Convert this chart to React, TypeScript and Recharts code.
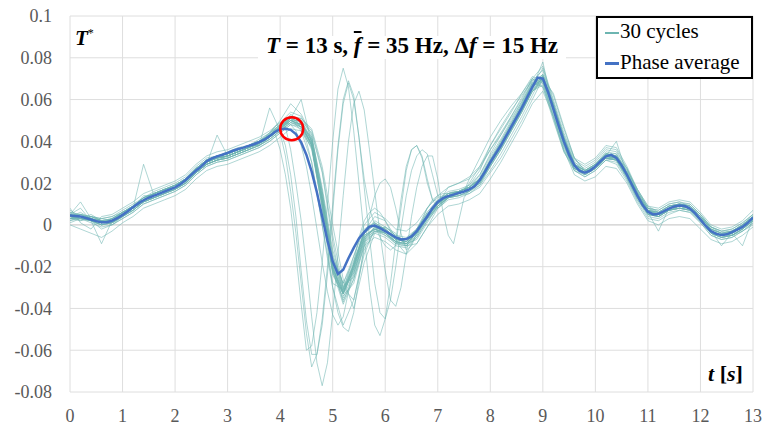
import React from "react";
import { LineChart, Line, XAxis, YAxis, CartesianGrid, ReferenceLine, ReferenceDot } from "recharts";

// time grids (s)
const steps = (a: number, b: number, d: number) => {
  const n = Math.round((b - a) / d);
  return Array.from({ length: n + 1 }, (_, i) => +(a + i * d).toFixed(2));
};
const T_AVG = steps(0, 13, 0.1);
const T_BAND = steps(0, 13, 0.2);
const T_OUT = [...steps(0, 3.4, 0.2), ...steps(3.6, 7.5, 0.1), ...steps(7.6, 13, 0.2)];

const X_TICKS = [0, 1, 2, 3, 4, 5, 6, 7, 8, 9, 10, 11, 12, 13];
const Y_TICKS = [-0.08, -0.06, -0.04, -0.02, 0, 0.02, 0.04, 0.06, 0.08, 0.1];

// T* values in units of 1e-3
const AVG = [
  4.5, 4.3, 4.0, 3.3, 2.6, 1.8, 1.3, 1.3, 2.0, 3.2,
  4.8, 6.5, 8.5, 10.3, 11.8, 13.0, 14.0, 15.0, 16.0, 17.0,
  18.0, 19.5, 21.5, 23.8, 26.0, 28.0, 30.5, 31.8, 32.8, 33.6,
  34.5, 35.5, 36.3, 37.0, 37.8, 38.6, 39.6, 40.8, 42.5, 44.5,
  45.8, 46.0, 45.5, 43.5, 39.5, 33.5, 25.5, 15.5, 4.0, -7.5,
  -17.5, -23.5, -21.5, -16.0, -11.0, -6.5, -3.5, -0.8, -0.3, -1.5,
  -3.0, -4.5, -6.0, -7.0, -6.8, -5.5, -3.0, 0.5, 4.0, 8.0,
  11.0, 12.8, 13.8, 14.5, 15.3, 16.0, 17.0, 18.5, 21.5, 25.5,
  30.0, 34.0, 38.0, 42.5, 47.0, 51.5, 56.0, 61.0, 66.0, 70.5,
  70.0, 63.5, 55.5, 47.5, 40.0, 33.5, 28.5, 25.8, 25.0, 26.0,
  28.0, 30.5, 32.8, 33.5, 32.0, 28.5, 24.0, 19.0, 14.0, 9.5,
  6.3, 5.0, 5.3, 6.5, 7.8, 8.8, 9.3, 9.0, 7.8, 5.5,
  2.5, -0.5, -3.0, -4.3, -4.8, -4.5, -3.5, -2.3, -1.0, 1.0,
  3.5,
];

const BAND = [
  [6,5,4,3,4,7, 10,13,16,18,20, 23,28,32,33,35, 37,38,40,43,48, 52,50,41,14,-17, -30,-18,-3,0,-2, -6,-7,-2,6,12, 15,16,18,23,32, 40,49,58,68,72, 57,41,29,26,29, 35,34,26,16,8, 7,10,11,9,5, -1,-3,-2,1,5],
  [2,3,1,-1,0,3, 6,10,12,14,16, 19,24,28,30,31, 33,35,37,40,44, 48,46,37,10,-22, -35,-23,-8,-4,-6, -10,-11,-6,2,8, 12,13,15,19,28, 36,45,54,64,68, 54,38,26,23,26, 31,30,22,12,4, 3,6,7,6,1, -5,-7,-6,-3,1],
  [5,8,2,0,3,6, 9,12,15,17,19, 22,27,31,33,34, 36,38,40,44,48, 51,45,30,0,-28, -31,-15,-2,1,-3, -7,-8,-3,5,11, 14,16,18,24,34, 43,52,60,70,68, 51,35,27,25,28, 33,31,22,12,5, 5,9,10,8,3, -3,-5,-3,0,4],
  [3,2,4,2,1,4, 7,11,13,15,17, 20,25,29,31,32, 34,36,38,41,45, 50,50,44,25,-8, -34,-28,-10,-3,-3, -8,-10,-6,2,9, 13,14,16,19,26, 34,43,52,62,72, 62,46,32,26,27, 32,33,27,17,8, 5,7,9,9,4, -2,-5,-5,-2,2],
  [7,4,2,3,2,5, 8,14,14,16,18, 21,26,30,32,33, 35,37,39,42,46, 53,49,40,13,-19, -37,-24,-6,-1,-4, -9,-9,-5,3,10, 14,15,17,22,31, 39,48,57,66,70, 56,40,28,25,28, 33,32,24,14,6, 4,8,9,8,3, -3,-5,-4,-1,3],
  [4,6,3,1,2,5, 8,12,15,17,18, 21,27,31,33,34, 36,38,41,44,50, 58,53,43,16,-15, -28,-17,-4,2,-1, -5,-6,-2,6,12, 16,17,19,24,33, 41,50,59,69,74, 58,42,30,27,30, 36,35,27,16,8, 6,9,10,9,4, -2,-4,-3,0,4],
  [3,4,2,0,1,5, 8,29,14,16,18, 21,25,29,31,33, 35,37,39,42,47, 50,47,36,9,-23, -33,-21,-6,-2,-5, -8,-9,-4,4,10, 14,15,17,21,29, 37,46,55,65,70, 55,39,27,24,27, 32,31,23,13,5, 4,7,8,7,2, -4,-6,-5,-2,2],
  [5,3,4,2,3,6, 9,12,14,16,17, 20,25,29,43,33, 35,37,39,42,46, 51,49,40,14,-18, -31,-19,-4,0,-3, -7,-8,-3,4,11, 15,16,18,22,31, 39,48,57,67,71, 57,41,29,26,29, 34,33,25,15,7, 6,9,10,9,4, -2,-4,-3,0,4],
  [2,4,3,2,1,4, 7,11,13,15,17, 20,25,29,31,32, 34,36,38,56,45, 49,47,38,11,-21, -33,-22,-7,-3,-5, -9,-10,-5,3,9, 13,14,16,20,28, 36,45,54,64,69, 55,39,27,24,27, 32,31,23,13,5, 4,7,8,7,2, -4,-6,-5,-2,2],
  [4,5,3,1,2,5, 8,12,14,16,18, 21,26,30,32,33, 35,37,39,42,46, 50,48,39,12,-20, -32,-20,-5,-2,-4, -8,-9,-4,4,10, 14,16,19,26,38, 46,54,63,71,69, 52,36,27,25,28, 33,32,24,14,6, 5,8,9,8,3, -3,-5,-4,-1,3],
  [5,4,2,0,1,4, 7,11,13,15,17, 20,25,29,31,32, 34,36,38,41,45, 49,48,41,16,-14, -30,-23,-7,-1,-3, -7,-8,-4,3,9, 13,14,15,18,25, 32,41,50,60,70, 63,47,32,26,27, 31,32,26,17,9, 6,7,8,8,4, -1,-4,-5,-3,1],
  [3,3,5,2,3,5, 9,13,15,17,19, 22,27,31,33,34, 36,38,40,43,47, 52,50,40,12,-22, -38,-26,-9,-2,-3, -6,-7,-3,5,11, 15,16,18,22,31, 40,49,58,67,75, 59,42,29,25,28, 34,34,25,15,7, 5,8,10,10,5, -1,-3,-3,0,5],
  [1,3,2,-2,0,3, 6,10,12,14,16, 19,24,28,30,31, 33,35,37,40,44, 48,47,39,13,-19, -31,-19,-4,0,-2, -6,-8,-4,4,10, 13,14,16,20,29, 37,46,55,64,67, 53,38,26,23,26, 31,29,21,11,3, 2,5,7,6,1, -5,-7,-6,-3,0],
  [4,3,2,-9,2,6, 9,13,15,17,19, 22,27,31,33,34, 36,38,40,43,47, 51,49,38,8,-24, -33,-19,-3,1,-2, -6,-7,-2,5,11, 15,16,18,22,30, 38,47,56,66,71, 56,40,28,25,28, 33,32,24,14,6, 4,7,9,8,3, -3,-10,-4,-1,3],
  [5,11,3,1,2,5, 8,12,14,16,18, 21,26,30,32,33, 35,37,39,42,46, 50,48,42,18,-12, -29,-25,-8,-1,-3, -7,-8,-4,3,9, 13,15,17,21,30, 38,47,56,66,71, 57,41,29,26,29, 34,33,25,15,7, 5,8,9,8,3, -3,-5,-4,-1,3],
  [8,1,-2,4,5,8, 11,15,17,19,21, 24,29,33,35,36, 38,40,42,45,49, 54,52,42,16,-16, -28,-15,0,6,3, -2,-3,1,8,14, 18,20,22,27,36, 44,52,61,70,76, 60,44,32,29,32, 38,37,28,17,9, 8,11,12,11,6, 0,-2,-1,2,7],
  [0,-2,-4,-6,-3,1, 4,8,10,12,14, 17,22,26,28,29, 31,33,35,38,42, 46,45,37,11,-22, -36,-26,-10,-6,-8, -12,-14,-9,-1,5, 9,10,12,15,22, 30,39,48,58,64, 52,36,24,21,23, 28,27,20,10,2, 0,3,4,3,-2, -7,-9,-8,-5,-1],
  [3,5,4,3,4,6, 9,13,15,17,19, 22,26,30,32,34, 36,38,40,43,47, 51,60,39,11,-21, -32,-19,-4,1,-2, -6,-7,-3,5,11, 14,16,18,22,30, 38,47,56,66,78, 55,40,28,25,28, 33,40,24,14,6, 5,8,9,8,3, -3,-5,-4,-1,3],
  [4,3,2,0,1,4, 7,11,13,15,17, 20,25,29,31,32, 34,36,38,41,45, 49,47,38,11,-21, -33,-21,-6,-2,-4, -8,-9,-4,4,10, 14,15,17,21,30, 38,47,57,68,66, 50,35,26,24,27, 32,31,23,13,5, 4,7,8,7,2, -4,-6,-5,-2,2],
  [5,5,3,1,3,6, 9,13,15,17,19, 22,27,31,33,34, 36,38,40,43,48, 52,51,45,26,-5, -30,-36,-14,-2,-1, -5,-9,-7,1,9, 14,16,18,22,31, 39,48,57,67,71, 57,41,29,26,29, 34,33,25,15,7, 5,8,9,8,3, -3,-5,-4,-1,3],
  [3,4,2,1,2,5, 8,12,14,16,18, 21,26,30,32,33, 35,37,39,42,46, 51,51,46,28,0, -26,-40,-18,-4,-1, -4,-10,-9,-1,8, 13,15,17,21,29, 37,46,55,65,70, 56,40,28,25,28, 33,32,24,14,6, 5,8,9,8,3, -3,-5,-4,-1,3],
  [4,4,3,1,2,5, 8,12,14,16,18, 21,26,30,32,33, 35,37,39,42,46, 50,48,38,8,-30, -48,-36,-12,-3,-4, -8,-9,-4,4,10, 14,15,17,21,30, 38,47,56,66,70, 56,40,28,25,28, 33,32,24,14,6, 5,8,9,8,3, -3,-5,-4,-1,3],
  [5,4,3,2,2,5, 8,12,14,16,18, 21,26,30,32,33, 35,37,39,42,46, 50,48,39,12,-20, -32,-20,-5,-2,-4, -8,-14,-4,4,10, 14,15,17,21,30, 38,47,56,66,70, 56,40,28,25,28, 33,32,24,14,6, -3,8,9,8,3, -3,-5,-4,-10,3],
  [3,4,3,1,2,5, 8,12,15,17,18, 21,26,31,33,34, 36,38,40,43,47, 51,48,38,11,-21, -33,-21,-3,4,2, -6,-9,-4,4,10, 18,20,23,28,36, 43,51,59,68,72, 58,43,31,28,31, 37,36,27,16,8, 7,10,11,10,5, -1,-3,-2,1,5],
];

const OUTLIERS = [
  [5,3,4,2,0,4,7,11,13,15,17,20,25,29,31,33,35,37,
   39,41,43,44,36,24,8,-14,-38,-60, -58,-42,-18,10,40,65,75,66,45,20, -5,-30,-48,-53,-45,-28,-8,12,28,36, 38,33,22,12,8,10,13,14,15,16,
   22,32,42,50,57,63,70,66,52,37, 27,25,29,34,33,25,15,7,5,8, 10,8,3,-3,-5,-4,-1,3],
  [3,4,2,1,3,5,9,12,15,17,19,22,27,31,33,34,36,38,
   38,40,42,45,44,33,16,-4,-28,-52, -68,-62,-45,-20,10,38,60,69,62,42, 18,-6,-28,-42,-45,-36,-20,-2,14,26, 33,36,34,24,14,12,13,15,15,16,
   20,28,38,47,55,62,69,71,58,42, 30,26,28,32,31,24,14,6,4,7, 8,7,2,-4,-6,-5,-2,2],
  [4,5,3,1,2,6,8,12,14,16,18,21,26,30,32,33,35,37,
   40,42,44,47,49,47,36,20,2,-20, -44,-66,-77,-66,-42,-14,14,40,58,64, 55,36,16,-4,-22,-36,-39,-30,-14,4, 18,28,33,33,22,6,-5,-9,2,13,
   17,20,28,36,45,54,64,70,58,42, 29,25,27,32,32,25,15,7,6,9, 10,9,4,-2,-4,-3,0,4],
  [3,3,2,0,1,4,8,11,13,15,18,21,25,29,31,32,34,36,
   39,41,44,46,45,38,24,4,-22,-46, -62,-62,-48,-24,6,36,58,68,60,42, 22,8,0,-6,-10,-12,-10,8,26,36, 38,32,20,12,11,12,14,15,16,17,
   18,22,30,38,46,55,65,69,56,40, 28,24,27,32,31,23,13,5,4,7, 8,7,2,-4,-6,-5,-2,2],
  [6,4,3,2,2,5,8,12,14,16,18,21,26,30,32,33,35,37,
   40,41,43,46,48,50,51,50,46,40, 30,16,0,-16,-30,-42,-49,-51,-42,-26, -10,4,14,20,22,18,8,-4,-12,-10, -4,2,8,12,14,15,15,16,16,17,
   17,20,29,37,46,55,64,69,57,41, 29,26,29,34,33,25,15,7,6,9, 10,9,4,-2,-4,-3,0,4],
  [4,2,3,1,3,6,9,13,15,17,19,22,27,31,33,34,36,38,
   38,40,42,45,47,49,48,45,38,28, 14,-2,-18,-32,-43,-48,-44,-32,-18,-6, 2,6,8,6,2,-3,-7,-10,-10,-7, -2,3,8,11,13,14,14,15,15,16,
   16,21,30,38,47,56,66,70,56,40, 28,25,28,33,32,24,14,6,5,8, 9,8,3,-3,-5,-4,-1,3],
];

// marked point (red circle)
const MARK_T = 4.22;
const MARK_V = 0.046;

const CYCLE_COLOR = "#6db5b1";
const AVG_COLOR = "#4472c4";
const SERIF = "Liberation Serif, DejaVu Serif, serif";

const rows = (ts: number[], vs: number[]) => ts.map((t, i) => ({ t, v: vs[i] / 1000 }));
const cycles = [...BAND.map((c) => rows(T_BAND, c)), ...OUTLIERS.map((c) => rows(T_OUT, c))];
const avgRows = rows(T_AVG, AVG);

const fmtY = (v: number) => String(Number(v.toFixed(2)));

export default function App() {
  return (
    <div style={{ position: "absolute", left: 0, top: 0, width: 766, height: 427, background: "#fff", fontFamily: SERIF }}>
      <LineChart width={766} height={427} margin={{ top: 16, right: 13, bottom: 5, left: 0 }}>
        <CartesianGrid stroke="#dedede" strokeWidth={1} />
        <XAxis
          dataKey="t"
          type="number"
          domain={[0, 13]}
          ticks={X_TICKS}
          allowDataOverflow
          axisLine={false}
          tickLine={false}
          tickSize={0}
          tickMargin={17}
          height={30}
          interval={0}
          tick={{ fill: "#595959", fontSize: 18, fontFamily: SERIF }}
        />
        <YAxis
          type="number"
          domain={[-0.08, 0.1]}
          ticks={Y_TICKS}
          allowDataOverflow
          axisLine={false}
          tickLine={false}
          tickSize={0}
          tickMargin={18}
          width={70}
          interval={0}
          tickFormatter={fmtY}
          tick={{ fill: "#595959", fontSize: 18, fontFamily: SERIF }}
        />
        <ReferenceLine y={0} stroke="#cfcfcf" strokeWidth={1} />
        {cycles.map((d, i) => (
          <Line
            key={"c" + i}
            data={d}
            dataKey="v"
            type="linear"
            stroke={CYCLE_COLOR}
            strokeOpacity={0.55}
            strokeWidth={1}
            dot={false}
            activeDot={false}
            isAnimationActive={false}
          />
        ))}
        <Line
          data={avgRows}
          dataKey="v"
          type="linear"
          stroke={AVG_COLOR}
          strokeWidth={2.5}
          dot={false}
          activeDot={false}
          isAnimationActive={false}
        />
        <ReferenceDot x={MARK_T} y={MARK_V} r={11.5} fill="none" stroke="#ff0000" strokeWidth={2.5} />
      </LineChart>

      {/* title */}
      <div style={{ position: "absolute", left: 258, top: 36, width: 308, height: 23, background: "#fff" }} />
      <div
        style={{
          position: "absolute",
          left: 258,
          top: 33.7,
          width: 308,
          textAlign: "center",
          fontSize: 23,
          lineHeight: "23px",
          fontWeight: "bold",
          whiteSpace: "nowrap",
        }}
      >
        <i>T</i> = 13 s, <i style={{ textDecoration: "overline" }}>f</i> = 35 Hz, Δ<i>f</i> = 15 Hz
      </div>

      {/* axis titles */}
      <div style={{ position: "absolute", left: 75, top: 23.4, fontSize: 21, lineHeight: "21px", fontWeight: "bold" }}>
        <i>T</i>
        <sup style={{ fontSize: 12, fontWeight: "normal" }}>*</sup>
      </div>
      <div style={{ position: "absolute", left: 708, top: 362.6, fontSize: 22, lineHeight: "22px", fontWeight: "bold" }}>
        <i>t</i> [<i>s</i>]
      </div>

      {/* legend */}
      <div
        style={{
          position: "absolute",
          left: 596,
          top: 16,
          width: 153,
          height: 59,
          border: "2px solid #000",
          background: "#fff",
          fontSize: 21,
        }}
      >
        <div style={{ position: "absolute", left: 7, top: 14, width: 14, height: 1.5, background: CYCLE_COLOR }} />
        <div style={{ position: "absolute", left: 22, top: 3.4, lineHeight: "21px", whiteSpace: "nowrap" }}>30 cycles</div>
        <div style={{ position: "absolute", left: 7, top: 44, width: 14, height: 3, background: AVG_COLOR }} />
        <div style={{ position: "absolute", left: 22, top: 34.4, lineHeight: "21px", whiteSpace: "nowrap" }}>Phase average</div>
      </div>
    </div>
  );
}
